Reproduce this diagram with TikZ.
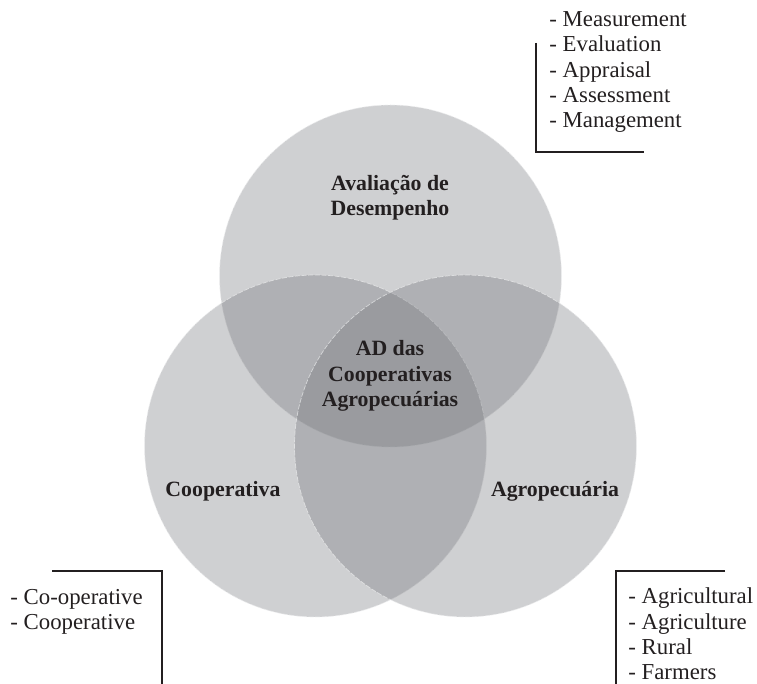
\documentclass[tikz,border=0pt]{standalone}
\usepackage{fontspec}
\setmainfont{Liberation Serif}
\usepackage{xcolor}
\definecolor{venngray}{RGB}{110,112,118}
\definecolor{inkdark}{RGB}{35,31,32}
\definecolor{rimwhite}{RGB}{236,237,238}

\tikzset{
  setcircle/.style={fill=venngray, fill opacity=0.33, draw=rimwhite, draw opacity=0.7,
    line width=0.35pt, dash pattern=on 2.5pt off 0.8pt},
  setlabel/.style={inkdark, font=\bfseries\fontsize{10.9}{12.6}\selectfont, align=center, inner sep=0pt},
  termlist/.style={inkdark, font=\fontsize{11.4}{12.6}\selectfont, align=left, anchor=west, inner sep=0pt},
  bracket/.style={inkdark, line width=0.6pt}
}

\begin{document}
\begin{tikzpicture}[x=0.5pt,y=-0.5pt]
        \useasboundingbox (0,0) rectangle (757,684);

        % Venn diagram
        \path[setcircle] (390.5,276) circle (171);
        \path[setcircle] (315.5,446) circle (171);
        \path[setcircle] (465.5,446) circle (171);

        \node[setlabel] (avaliacao) at (390,198) {Avaliação de\\Desempenho};
        \node[setlabel] (coop) at (223,491) {Cooperativa};
        \node[setlabel] (agro) at (555,491) {Agropecuária};
        \node[setlabel] (core) at (390,376) {AD das\\Cooperativas\\Agropecuárias};

        % search terms
        \node[termlist] (termsAD) at (549,72) {- Measurement\\- Evaluation\\- Appraisal\\- Assessment\\- Management};
        \node[termlist] (termsCoop) at (10,612) {- Co-operative\\- Cooperative};
        \node[termlist] (termsAgro) at (628,634) {- Agricultural\\- Agriculture\\- Rural\\- Farmers};

        \draw[bracket] (536,43) |- (644,152);
        \draw[bracket] (52,571) -| (162,684);
        \draw[bracket] (725,571) -| (616,684);
    \end{tikzpicture}
\end{document}
